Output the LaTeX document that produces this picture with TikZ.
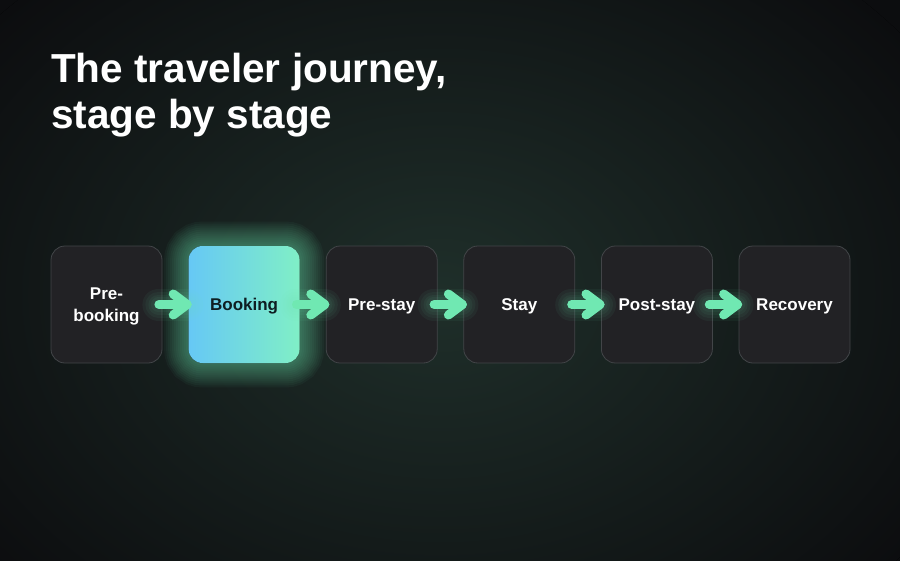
\documentclass[tikz,border=0pt]{standalone}
\usepackage{fontspec}
\setmainfont{Liberation Sans}
\usetikzlibrary{positioning,backgrounds}

\definecolor{bgdark}{HTML}{0C0D0F}
\definecolor{bgglow}{HTML}{1F2F2A}
\definecolor{boxfill}{HTML}{222225}
\definecolor{boxline}{HTML}{424548}
\definecolor{mint}{HTML}{70E8B2}
\definecolor{sky}{HTML}{66C8F5}
\definecolor{mintlight}{HTML}{80EFC6}
\definecolor{inkdark}{HTML}{0E1E22}

\tikzset{
    stage/.style={rounded corners=14pt, minimum width=111pt, minimum height=117pt,
        fill=boxfill, draw=boxline, line width=0.8pt, text=white, align=center,
        inner sep=0pt, text depth=0pt, font=\bfseries\fontsize{17}{22}\selectfont},
    flow/.style={mint, line width=9pt, line cap=round, line join=round},
}

\begin{document}
\begin{tikzpicture}[x=1pt, y=-1pt, node distance=25.8pt]

    \useasboundingbox (0,0) rectangle (900,560);

    \node (title) [anchor=base west, align=left, text=white, inner sep=0pt,
        font=\bfseries\fontsize{40.5}{46}\selectfont] at (51,128)
        {The traveler journey,\\stage by stage};

    \begin{scope}
        \node[stage] (pre) at (106.5,304.5) {Pre-\\booking};
        \node[stage, right=of pre, draw=none, left color=sky, right color=mintlight,
            text=inkdark] (book) {Booking};
        \node[stage, right=of book] (prestay) {Pre-stay};
        \node[stage, right=of prestay] (stay) {Stay};
        \node[stage, right=of stay] (post) {Post-stay};
        \node[stage, right=of post] (recov) {Recovery};
    \end{scope}

    \begin{scope}[on background layer]
        \fill[bgdark] (-1,-1) rectangle (901,561);
        \clip (0,0) rectangle (900,560);
        \fill[inner color=bgglow, outer color=bgdark] (440,295) ellipse [x radius=580, y radius=430];
        % soft halo round the active stage
        \foreach \w in {4,8,...,48}
            \draw[mint, opacity=0.045, line width=\w pt, rounded corners=14pt]
                (book.south west) rectangle (book.north east);
    \end{scope}

    \foreach \a/\b in {pre/book, book/prestay, prestay/stay, stay/post, post/recov} {
        \foreach \w in {32,26,20,15} {
            \draw[flow, line width=\w pt, opacity=0.05] ([xshift=-4pt]\a.east) -- ([xshift=-1pt]\b.west);
        }
        \draw[flow] ([xshift=-3.5pt]\a.east) -- ([xshift=-1pt]\b.west);
        \draw[flow] ([xshift=-15pt,yshift=10.5pt]\b.west) -- ([xshift=-1pt]\b.west)
            -- ([xshift=-15pt,yshift=-10.5pt]\b.west);
    }

\end{tikzpicture}
\end{document}
